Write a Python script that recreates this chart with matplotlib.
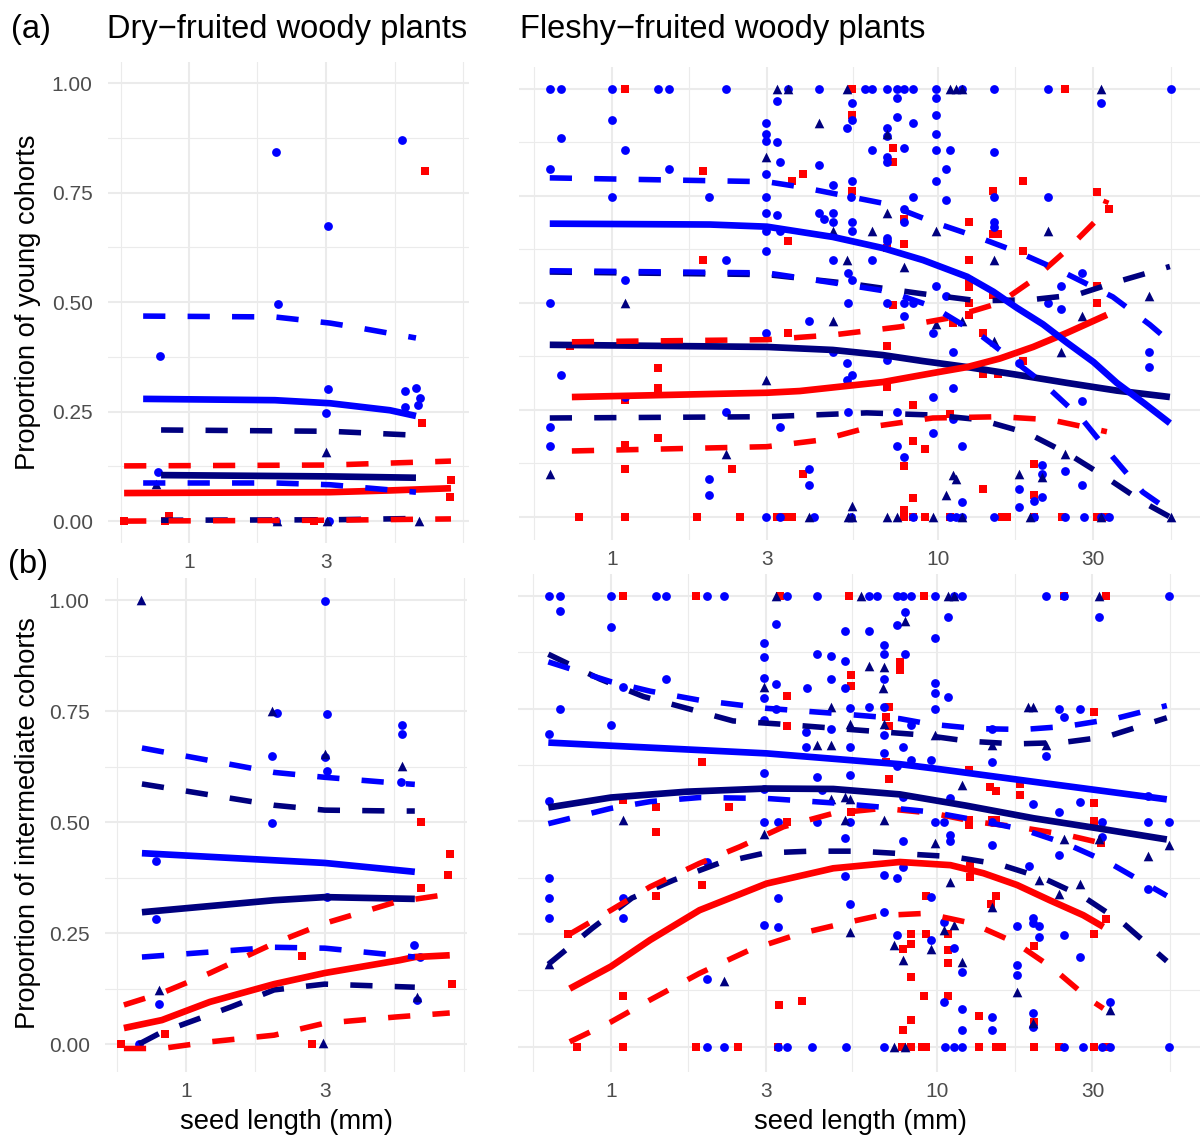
import matplotlib
matplotlib.use("Agg")
import matplotlib.pyplot as plt
from matplotlib.ticker import FixedLocator, NullFormatter

plt.rcParams['font.family'] = ['Liberation Sans', 'DejaVu Sans']

W, H = 1201, 1140
BLUE, NAVY, RED = '#0000FF', '#00007F', '#FF0000'

# ---------------- data: (a) dry-fruited, young cohorts ----------------
tl_blue = [(2.01, 0.842), (5.51, 0.870), (3.05, 0.674), (2.04, 0.495), (0.79, 0.377), (3.05, 0.301),
           (3.0, 0.246), (5.65, 0.297), (6.17, 0.304), (6.38, 0.281), (5.65, 0.260), (6.26, 0.265),
           (0.78, 0.112), (2.01, 0.0), (3.07, 0.0)]
tl_navy = [(0.77, 0.084), (3.0, 0.157), (6.3, 0.0), (2.03, 0.0), (3.03, 0.0)]
tl_red = [(6.63, 0.799), (6.5, 0.224), (8.17, 0.094), (8.1, 0.055), (0.594, 0.0), (0.825, 0.0),
          (0.85, 0.012), (2.72, 0.0)]

tl_blue_fit = ([0.692, 1.99, 3.10, 5.01, 6.17], [0.279, 0.276, 0.269, 0.253, 0.240])
tl_blue_hi = ([0.692, 1.99, 3.10, 4.0, 6.17], [0.468, 0.466, 0.452, 0.44, 0.418])
tl_blue_lo = ([0.692, 1.99, 3.10, 6.17], [0.087, 0.087, 0.083, 0.066])
tl_navy_fit = ([0.799, 3.10, 6.17], [0.105, 0.102, 0.099])
tl_navy_hi = ([0.799, 3.10, 6.17], [0.208, 0.205, 0.196])
tl_navy_lo = ([0.799, 3.10, 6.17], [0.002, 0.003, 0.006])
tl_red_fit = ([0.594, 3.10, 5.01, 8.17], [0.064, 0.066, 0.070, 0.075])
tl_red_hi = ([0.594, 3.10, 8.17], [0.126, 0.128, 0.137])
tl_red_lo = ([0.594, 3.10, 8.17], [0.0, 0.002, 0.005])

# ---------------- data: (b) dry-fruited, intermediate cohorts ----------------
bl_blue = [(3.0, 0.998), (2.05, 0.746), (3.05, 0.743), (5.55, 0.718), (5.55, 0.698), (1.98, 0.649),
           (3.0, 0.647), (3.05, 0.615), (5.47, 0.590), (1.98, 0.498), (0.79, 0.412), (0.79, 0.281),
           (3.05, 0.331), (6.1, 0.223), (6.4, 0.196), (0.81, 0.090), (6.25, 0.099), (0.69, 0.0)]
bl_navy = [(0.70, 1.0), (1.97, 0.75), (3.0, 0.653), (5.55, 0.626), (0.81, 0.122), (6.25, 0.106), (2.95, 0.002)]
bl_red = [(6.45, 0.50), (8.1, 0.428), (7.96, 0.381), (6.45, 0.351), (2.5, 0.198), (8.2, 0.135),
          (0.85, 0.022), (0.60, 0.0), (2.72, 0.0)]

bl_blue_fit = ([0.706, 2.01, 3.0, 6.12], [0.430, 0.414, 0.408, 0.388])
bl_blue_hi = ([0.706, 2.01, 3.0, 5.27, 6.12], [0.667, 0.612, 0.601, 0.588, 0.585])
bl_blue_lo = ([0.706, 2.01, 3.0, 6.12], [0.196, 0.218, 0.216, 0.196])
bl_navy_fit = ([0.706, 2.01, 3.0, 6.12], [0.297, 0.324, 0.331, 0.327])
bl_navy_hi = ([0.706, 2.01, 3.0, 5.27, 6.12], [0.586, 0.538, 0.527, 0.525, 0.525])
bl_navy_lo = ([0.69, 0.827, 1.42, 2.01, 3.0, 6.12], [0.0, 0.027, 0.083, 0.122, 0.135, 0.128])
bl_red_fit = ([0.612, 0.827, 1.21, 2.01, 3.0, 5.44, 6.12, 8.07],
              [0.036, 0.054, 0.095, 0.135, 0.160, 0.189, 0.196, 0.200])
bl_red_hi = ([0.612, 0.827, 1.21, 2.01, 3.0, 5.27, 8.07], [0.088, 0.115, 0.160, 0.227, 0.272, 0.320, 0.338])
bl_red_lo = ([0.612, 0.827, 1.21, 2.01, 3.0, 5.27, 8.07], [-0.01, -0.01, 0.005, 0.020, 0.047, 0.061, 0.07])

# ---------------- data: (a) fleshy-fruited, young cohorts ----------------
tr_blue = [(0.645, 1), (0.698, 1), (1.0, 1), (1.39, 1), (1.50, 1), (2.24, 1), (3.47, 1), (3.22, 0.972),
           (1.0, 0.927), (0.698, 0.886), (2.98, 0.92), (2.98, 0.894), (2.98, 0.877), (3.22, 0.875),
           (1.10, 0.857), (3.28, 0.829), (0.645, 0.813), (1.50, 0.813), (2.98, 0.80), (1.0, 0.748),
           (1.99, 0.748), (2.98, 0.748), (2.98, 0.71), (3.22, 0.705), (2.98, 0.667), (3.28, 0.667),
           (2.98, 0.622), (2.24, 0.60), (1.10, 0.553), (0.645, 0.50), (2.98, 0.43), (0.698, 0.332),
           (1.10, 0.28), (2.24, 0.245), (0.645, 0.21), (3.28, 0.21), (0.645, 0.165), (1.99, 0.088),
           (1.99, 0.05), (2.98, 0), (3.28, 0),
           (4.33, 1), (5.97, 1), (6.26, 1), (6.97, 1), (7.5, 1), (7.88, 1), (8.39, 1), (9.9, 1), (11.9, 1),
           (14.85, 1), (21.8, 1), (51.9, 1),
           (7.5, 0.978), (9.9, 0.978), (5.45, 0.966), (31.6, 0.966), (9.9, 0.94), (7.5, 0.935), (8.39, 0.92),
           (5.45, 0.927), (5.26, 0.908), (6.97, 0.908), (9.9, 0.894), (6.97, 0.889), (4.33, 0.823),
           (6.26, 0.857), (7.88, 0.862), (9.9, 0.857), (10.9, 0.857), (14.85, 0.852), (6.97, 0.841),
           (6.97, 0.829), (10.6, 0.813), (9.9, 0.785), (4.76, 0.776), (5.45, 0.785), (5.4, 0.748),
           (8.39, 0.748), (10.6, 0.741), (14.85, 0.748), (21.8, 0.748), (4.33, 0.71), (4.47, 0.697),
           (4.76, 0.71), (4.76, 0.69), (5.45, 0.69), (7.88, 0.72), (7.88, 0.69), (14.85, 0.69),
           (14.85, 0.678), (5.45, 0.667), (6.97, 0.652), (6.97, 0.644), (6.26, 0.60), (4.76, 0.60),
           (5.31, 0.57), (5.45, 0.553), (9.9, 0.54), (10.6, 0.517), (23.8, 0.54), (27.6, 0.57),
           (5.31, 0.50), (6.97, 0.5), (7.88, 0.5), (8.39, 0.5), (21.8, 0.5), (23.8, 0.485), (7.88, 0.47),
           (4.03, 0.458), (9.69, 0.43), (4.76, 0.385), (6.97, 0.367), (11.1, 0.385), (5.26, 0.36),
           (5.45, 0.332), (5.26, 0.32), (11.1, 0.302), (44.5, 0.385), (44.5, 0.35), (17.8, 0.36),
           (9.69, 0.28), (27.6, 0.27), (5.31, 0.245), (7.5, 0.245), (11.1, 0.228), (9.69, 0.197),
           (7.5, 0.165), (11.9, 0.165), (7.88, 0.139), (4.03, 0.113), (4.03, 0.075), (20.8, 0.122),
           (20.8, 0.10), (24.5, 0.108), (27.6, 0.075), (17.8, 0.065), (11.9, 0.034), (17.8, 0.023),
           (19.7, 0.037), (20.8, 0.046),
           (4.18, 0), (5.4, 0), (8.39, 0), (10.9, 0), (11.4, 0), (11.9, 0), (14.85, 0), (19.7, 0), (24.5, 0),
           (28.1, 0), (31.6, 0), (33.6, 0)]
tr_navy = [(3.22, 1), (3.47, 1), (2.98, 0.841), (1.10, 0.50), (2.98, 0.32), (0.645, 0.10), (2.24, 0.146),
           (5.26, 1), (10.9, 1), (11.4, 1), (11.9, 1), (31.6, 1), (4.33, 0.92), (6.97, 0.894), (6.97, 0.71),
           (4.76, 0.667), (6.26, 0.667), (9.9, 0.667), (21.8, 0.667), (5.26, 0.60), (7.88, 0.583),
           (14.85, 0.60), (4.76, 0.458), (9.9, 0.45), (11.9, 0.458), (14.85, 0.41), (23.8, 0.385),
           (27.6, 0.47), (44.5, 0.517), (24.5, 0.146), (17.8, 0.10), (11.1, 0.097), (11.4, 0.088),
           (20.8, 0.093), (10.6, 0.05), (5.45, 0.025), (4.03, 0), (5.31, 0), (5.45, 0), (6.97, 0), (7.5, 0),
           (9.69, 0), (11.9, 0), (19.2, 0), (31.6, 0), (51.9, 0)]
tr_red = [(1.10, 1), (1.91, 0.808), (3.56, 0.785), (3.47, 0.644), (1.91, 0.60), (3.47, 0.43), (0.743, 0.40),
          (1.39, 0.347), (1.39, 0.30), (1.10, 0.273), (1.39, 0.185), (1.10, 0.167), (1.10, 0.111),
          (2.33, 0.111), (0.794, 0), (1.10, 0), (1.83, 0), (2.48, 0), (3.22, 0), (3.38, 0), (3.56, 0),
          (5.45, 1), (24.5, 1), (5.45, 0.94), (7.26, 0.862), (7.26, 0.829), (3.85, 0.80), (18.2, 0.785),
          (14.8, 0.762), (5.45, 0.762), (30.7, 0.758), (33.6, 0.72), (12.5, 0.69), (7.88, 0.697),
          (14.8, 0.661), (15.3, 0.661), (6.97, 0.628), (7.88, 0.637), (18.2, 0.622), (12.5, 0.60),
          (12.5, 0.553), (12.5, 0.537), (14.8, 0.519), (7.26, 0.495), (12.5, 0.50), (12.5, 0.472),
          (30.7, 0.54), (30.7, 0.50), (13.8, 0.43), (11.1, 0.452), (6.97, 0.40), (18.2, 0.365),
          (13.8, 0.334), (15.3, 0.334), (8.39, 0.262), (6.97, 0.303), (10.9, 0.241), (8.39, 0.178),
          (9.1, 0.159), (7.88, 0.12), (3.85, 0.10), (13.8, 0.065), (19.7, 0.124), (19.7, 0.051),
          (8.39, 0.044), (7.88, 0.016), (7.88, 0), (8.39, 0), (9.1, 0), (10.9, 0), (15.7, 0), (16.3, 0),
          (19.7, 0), (24.0, 0), (30.7, 0), (32.9, 0)]

tr_blue_fit = ([0.645, 2.0, 2.99, 4.76, 6.78, 9.0, 12.3, 14.8, 17.5, 21.0, 24.9, 30.0, 35.4, 43.0, 51.5],
               [0.685, 0.683, 0.678, 0.654, 0.628, 0.600, 0.561, 0.526, 0.488, 0.450, 0.407, 0.362, 0.313,
                0.265, 0.219])
tr_blue_hi = ([0.645, 2.99, 3.77, 6.97, 9.65, 13.2, 17.8, 24.2, 34.4, 44.7, 51.5],
              [0.792, 0.783, 0.771, 0.731, 0.689, 0.654, 0.617, 0.572, 0.514, 0.449, 0.409])
tr_blue_lo = ([0.645, 2.99, 4.76, 7.12, 9.65, 13.7, 21.0, 27.8, 34.4, 42.5, 48.0],
              [0.575, 0.570, 0.547, 0.526, 0.491, 0.421, 0.313, 0.227, 0.140, 0.058, 0.03])
tr_navy_fit = ([0.645, 2.99, 4.76, 6.78, 9.0, 12.3, 17.5, 24.9, 35.4, 51.5],
               [0.402, 0.397, 0.390, 0.378, 0.364, 0.350, 0.332, 0.313, 0.295, 0.280])
tr_navy_hi = ([0.645, 2.99, 5.37, 8.81, 13.2, 19.1, 26.7, 35.4, 51.5],
              [0.572, 0.566, 0.545, 0.522, 0.505, 0.507, 0.519, 0.549, 0.585])
tr_navy_lo = ([0.645, 2.99, 6.05, 9.65, 13.5, 18.8, 25.4, 33.0, 42.5, 51.5],
              [0.231, 0.234, 0.243, 0.238, 0.227, 0.196, 0.145, 0.091, 0.035, 0.0])
tr_red_fit = ([0.754, 2.99, 3.77, 6.78, 9.65, 12.3, 15.5, 19.6, 24.9, 33.0],
              [0.280, 0.290, 0.294, 0.315, 0.336, 0.350, 0.370, 0.397, 0.430, 0.472])
tr_red_hi = ([0.754, 2.99, 4.76, 7.65, 10.9, 15.5, 19.6, 24.9, 31.4, 33.0],
             [0.409, 0.414, 0.425, 0.444, 0.465, 0.500, 0.554, 0.624, 0.701, 0.741])
tr_red_lo = ([0.754, 2.99, 4.43, 6.19, 9.65, 15.5, 22.1, 33.0],
             [0.154, 0.164, 0.180, 0.210, 0.231, 0.234, 0.227, 0.199])

# ---------------- data: (b) fleshy-fruited, intermediate cohorts ----------------
br_blue = [(0.645, 1), (0.698, 1), (1.0, 1), (1.38, 1), (1.48, 1), (1.97, 1), (2.22, 1), (3.47, 1),
           (0.698, 0.967), (1.0, 0.932), (3.2, 0.939), (2.95, 0.897), (2.95, 0.865), (1.48, 0.817),
           (2.95, 0.819), (3.2, 0.806), (1.09, 0.799), (2.95, 0.773), (0.698, 0.749), (3.2, 0.749),
           (2.95, 0.725), (0.645, 0.695), (1.0, 0.713), (2.95, 0.608), (2.95, 0.571), (0.645, 0.545),
           (2.95, 0.499), (3.25, 0.499), (1.97, 0.41), (0.645, 0.374), (0.645, 0.331), (0.645, 0.285),
           (1.09, 0.331), (1.09, 0.285), (3.25, 0.331), (2.95, 0.27), (3.25, 0.265), (1.97, 0.15),
           (1.97, 0), (2.22, 0), (3.25, 0), (3.47, 0),
           (4.28, 1), (6.2, 1), (6.57, 1), (7.52, 1), (7.88, 1), (8.35, 1), (9.86, 1), (11.3, 1), (11.9, 1),
           (21.6, 1), (24.6, 1), (51.5, 1),
           (7.98, 0.965), (10.8, 0.954), (31.5, 0.954), (7.52, 0.936), (5.22, 0.922), (6.2, 0.923),
           (9.86, 0.908), (6.9, 0.891), (4.28, 0.871), (4.73, 0.867), (6.9, 0.871), (7.98, 0.871),
           (5.22, 0.857), (4.73, 0.816), (5.22, 0.797), (6.9, 0.816), (4.0, 0.795), (9.86, 0.808),
           (9.86, 0.786), (10.8, 0.777), (5.41, 0.751), (6.2, 0.754), (9.86, 0.749), (6.9, 0.754),
           (23.7, 0.749), (27.5, 0.749), (24.6, 0.732), (3.98, 0.699), (4.73, 0.706), (6.9, 0.692),
           (8.35, 0.714), (14.8, 0.706), (3.98, 0.666), (5.41, 0.666), (7.88, 0.666), (21.6, 0.646),
           (6.9, 0.652), (8.35, 0.636), (9.6, 0.636), (14.8, 0.631), (7.52, 0.624), (4.28, 0.599),
           (5.41, 0.603), (4.45, 0.57), (7.88, 0.555), (11.0, 0.551), (19.7, 0.538), (23.7, 0.521),
           (27.5, 0.542), (44.3, 0.557), (4.28, 0.499), (5.41, 0.499), (9.86, 0.499), (10.5, 0.499),
           (14.8, 0.499), (32.0, 0.499), (44.3, 0.499), (51.5, 0.499), (5.22, 0.464), (7.88, 0.456),
           (11.0, 0.47), (11.0, 0.456), (14.8, 0.447), (23.7, 0.425), (32.0, 0.466), (5.22, 0.379),
           (6.9, 0.381), (7.52, 0.375), (7.88, 0.399), (19.2, 0.401), (44.3, 0.351), (5.41, 0.317),
           (9.6, 0.333), (6.9, 0.30), (10.5, 0.277), (17.6, 0.268), (19.7, 0.285), (19.7, 0.274),
           (20.6, 0.268), (20.6, 0.244), (24.6, 0.249), (7.52, 0.249), (9.6, 0.237), (11.3, 0.22),
           (27.5, 0.2), (11.9, 0.166), (17.6, 0.181), (17.6, 0.159), (10.5, 0.10), (11.9, 0.083),
           (14.8, 0.067), (19.7, 0.076), (34.0, 0.10), (11.9, 0.037), (14.8, 0.037), (19.7, 0.044),
           (4.13, 0), (5.28, 0), (6.9, 0), (10.6, 0), (11.3, 0), (11.9, 0), (24.6, 0), (28.1, 0), (32.0, 0),
           (34.0, 0), (51.5, 0)]
br_navy = [(3.2, 1), (2.95, 0.799), (1.09, 0.503), (2.95, 0.472), (2.22, 0.146), (0.645, 0.183),
           (5.87, 1), (10.8, 1), (11.3, 1), (31.4, 1), (7.98, 0.945), (6.2, 0.845), (6.9, 0.842),
           (6.85, 0.795), (4.73, 0.754), (5.41, 0.717), (6.9, 0.717), (9.86, 0.692), (4.28, 0.669),
           (4.73, 0.669), (14.8, 0.669), (21.6, 0.669), (19.0, 0.754), (19.7, 0.754), (11.9, 0.581),
           (4.73, 0.549), (5.22, 0.555), (5.41, 0.549), (5.22, 0.503), (6.9, 0.504), (9.86, 0.453),
           (24.6, 0.46), (31.5, 0.46), (51.5, 0.447), (44.3, 0.423), (11.0, 0.366), (20.6, 0.371),
           (23.7, 0.338), (27.5, 0.362), (14.8, 0.311), (5.41, 0.255), (7.4, 0.226), (7.88, 0.192),
           (9.6, 0.218), (10.5, 0.259), (11.3, 0.271), (11.9, 0.189), (17.6, 0.121), (19.7, 0.052),
           (34.0, 0.081), (7.4, 0), (7.98, 0)]
br_red = [(1.09, 1), (1.83, 1), (3.3, 1), (1.9, 0.632), (3.47, 0.779), (3.47, 0.712), (1.09, 0.547),
          (1.38, 0.533), (2.3, 0.531), (1.38, 0.477), (3.47, 0.499), (1.9, 0.359), (1.38, 0.335),
          (0.74, 0.25), (1.09, 0.112), (3.28, 0.092), (3.85, 0.101), (0.79, 0), (1.09, 0), (1.83, 0),
          (2.45, 0), (3.25, 0),
          (5.38, 1), (9.1, 1), (24.6, 1), (33.1, 1), (5.45, 0.825), (5.45, 0.80), (7.7, 0.854), (7.7, 0.836),
          (7.15, 0.754), (7.0, 0.732), (7.15, 0.712), (30.3, 0.743), (7.0, 0.632), (7.15, 0.595),
          (12.5, 0.615), (14.5, 0.577), (15.2, 0.567), (18.0, 0.583), (18.0, 0.558), (30.3, 0.541),
          (30.3, 0.501), (5.45, 0.521), (12.5, 0.503), (12.5, 0.492), (14.8, 0.503), (15.2, 0.503),
          (31.8, 0.453), (12.6, 0.40), (12.6, 0.377), (9.25, 0.334), (15.2, 0.334), (14.6, 0.317),
          (33.1, 0.283), (30.3, 0.251), (8.35, 0.251), (9.25, 0.251), (10.8, 0.251), (8.3, 0.228),
          (7.88, 0.216), (10.8, 0.214), (10.8, 0.186), (19.8, 0.223), (8.3, 0.155), (9.1, 0.112),
          (10.8, 0.112), (3.86, 0.101), (13.5, 0.069), (19.8, 0.055), (8.3, 0.059), (7.88, 0.038),
          (7.8, 0), (8.35, 0), (9.0, 0), (9.25, 0), (13.5, 0), (15.2, 0), (15.8, 0), (19.8, 0), (23.7, 0),
          (30.3, 0), (33.0, 0)]

br_blue_fit = ([0.643, 1.0, 3.0, 7.7, 9.7, 19.8, 50.7], [0.675, 0.668, 0.651, 0.627, 0.618, 0.588, 0.549])
br_blue_hi = ([0.643, 1.0, 1.32, 1.87, 3.0, 4.81, 7.7, 9.5, 13.2, 18.4, 25.0, 35.6, 50.7],
              [0.854, 0.81, 0.789, 0.769, 0.751, 0.74, 0.728, 0.716, 0.706, 0.704, 0.711, 0.729, 0.757])
br_blue_lo = ([0.643, 1.0, 1.32, 1.87, 3.0, 4.81, 7.7, 9.6, 13.4, 18.4, 25.0, 34.0, 50.7],
              [0.495, 0.529, 0.544, 0.553, 0.551, 0.541, 0.528, 0.521, 0.502, 0.482, 0.45, 0.407, 0.335])
br_navy_fit = ([0.643, 1.0, 1.71, 3.0, 4.81, 7.7, 12.3, 19.8, 31.6, 50.7],
               [0.531, 0.553, 0.566, 0.573, 0.572, 0.56, 0.535, 0.507, 0.484, 0.46])
br_navy_hi = ([0.643, 0.925, 1.26, 1.75, 2.37, 3.3, 6.4, 8.98, 12.5, 17.4, 24.2, 33.2, 50.7],
              [0.871, 0.816, 0.777, 0.749, 0.723, 0.716, 0.70, 0.692, 0.678, 0.672, 0.675, 0.688, 0.73])
br_navy_lo = ([0.643, 0.877, 1.16, 1.56, 2.14, 2.97, 4.1, 5.74, 7.98, 11.1, 15.5, 21.2, 28.1, 37.3, 50.7],
              [0.183, 0.263, 0.33, 0.37, 0.407, 0.43, 0.434, 0.434, 0.428, 0.422, 0.405, 0.374, 0.333,
               0.274, 0.19])
br_red_fit = ([0.748, 1.0, 1.32, 1.87, 3.0, 4.81, 7.7, 11.0, 13.9, 17.6, 22.2, 28.1, 32.4],
              [0.129, 0.178, 0.237, 0.303, 0.362, 0.396, 0.41, 0.403, 0.385, 0.359, 0.325, 0.292, 0.266])
br_red_hi = ([0.748, 1.0, 1.32, 1.87, 2.49, 3.38, 4.81, 6.84, 9.75, 13.2, 17.6, 25.0, 32.4],
             [0.25, 0.303, 0.355, 0.407, 0.444, 0.488, 0.518, 0.529, 0.518, 0.499, 0.488, 0.47, 0.451])
br_red_lo = ([0.748, 1.0, 1.32, 1.87, 2.67, 3.8, 5.4, 6.63, 9.24, 12.8, 17.4, 22.7, 29.4, 32.4],
             [0.011, 0.055, 0.104, 0.163, 0.215, 0.251, 0.277, 0.291, 0.296, 0.274, 0.231, 0.174, 0.105,
              0.085])

# gridline positions (ggplot-style minor breaks on log10 axis)
y_major = [0, 0.25, 0.5, 0.75, 1.0]
y_minor = [0.125, 0.375, 0.625, 0.875]
left_major = [1, 3]
left_minor = [0.578, 1.73, 5.2, 9.0]
right_major = [1, 3, 10, 30]
right_minor = [0.578, 1.73, 5.48, 17.3, 52.0]


def box(l, t, r, b):
    return [l / W, 1 - b / H, (r - l) / W, (b - t) / H]


fig = plt.figure(figsize=(W / 100, H / 100), dpi=100)

panels = [
    # box, xlim, ylim, majors, minors, show y labels, points, lines
    (box(108, 62, 469, 543), (0.522, 9.44), (-0.050, 1.048), left_major, left_minor, True,
     (tl_blue, tl_navy, tl_red),
     (tl_navy_fit, tl_navy_hi, tl_navy_lo, tl_red_fit, tl_red_hi, tl_red_lo, tl_blue_fit, tl_blue_hi, tl_blue_lo)),
    (box(519, 67, 1200, 540), (0.519, 63.7), (-0.054, 1.051), right_major, right_minor, False,
     (tr_blue, tr_navy, tr_red),
     (tr_navy_fit, tr_navy_hi, tr_navy_lo, tr_red_fit, tr_red_hi, tr_red_lo, tr_blue_fit, tr_blue_hi, tr_blue_lo)),
    (box(105, 578, 467, 1072), (0.527, 9.25), (-0.063, 1.050), left_major, left_minor, True,
     (bl_blue, bl_navy, bl_red),
     (bl_navy_fit, bl_navy_hi, bl_navy_lo, bl_red_fit, bl_red_hi, bl_red_lo, bl_blue_fit, bl_blue_hi, bl_blue_lo)),
    (box(518, 574, 1200, 1072), (0.519, 64.1), (-0.056, 1.049), right_major, right_minor, False,
     (br_blue, br_navy, br_red),
     (br_navy_fit, br_navy_hi, br_navy_lo, br_red_fit, br_red_hi, br_red_lo, br_blue_fit, br_blue_hi, br_blue_lo)),
]

line_cols = [NAVY] * 3 + [RED] * 3 + [BLUE] * 3

for rect, xl, yl, xmaj, xmin, ylab, pts, lines in panels:
    ax = fig.add_axes(rect)
    ax.set_xscale('log')
    ax.set_xlim(*xl)
    ax.set_ylim(*yl)
    for s in ax.spines.values():
        s.set_visible(False)
    ax.xaxis.set_major_locator(FixedLocator(xmaj))
    ax.xaxis.set_minor_locator(FixedLocator(xmin))
    ax.xaxis.set_major_formatter(plt.FixedFormatter([str(v) for v in xmaj]))
    ax.xaxis.set_minor_formatter(NullFormatter())
    ax.set_yticks(y_major)
    ax.set_yticks(y_minor, minor=True)
    if ylab:
        ax.set_yticklabels(['0.00', '0.25', '0.50', '0.75', '1.00'])
    else:
        ax.set_yticklabels([])
    ax.tick_params(which='both', length=0, labelsize=15, labelcolor='#4D4D4D')
    ax.tick_params(axis='x', pad=7.5)
    ax.tick_params(axis='y', pad=11)
    ax.grid(which='major', color='#EBEBEB', lw=1.5)
    ax.grid(which='minor', color='#EBEBEB', lw=0.8)
    ax.set_axisbelow(True)

    blue, navy, red = pts
    bx, by = zip(*blue)
    nx, ny = zip(*navy)
    rx, ry = zip(*red)
    ax.scatter(rx, ry, marker='s', s=30, color=RED, linewidths=0, zorder=3)
    ax.scatter(bx, by, marker='o', s=40, color=BLUE, linewidths=0, zorder=3)
    ax.scatter(nx, ny, marker='^', s=48, color=NAVY, linewidths=0, zorder=3)

    for i, ((lx, ly), c) in enumerate(zip(lines, line_cols)):
        if i % 3 == 0:
            ax.plot(lx, ly, color=c, lw=4.8, solid_capstyle='butt', solid_joinstyle='round', zorder=4)
        else:
            ax.plot(lx, ly, color=c, lw=4.0, linestyle=(0, (4.0, 4.0)), dash_capstyle='butt',
                    dash_joinstyle='round', zorder=4)


def ftext(x, y, s, **kw):
    fig.text(x / W, 1 - y / H, s, **kw)


ftext(11, 38, '(a)', fontsize=23.5, va='baseline', ha='left')
ftext(107, 38, 'Dry\u2212fruited woody plants', fontsize=23.5, va='baseline', ha='left')
ftext(520, 38, 'Fleshy\u2212fruited woody plants', fontsize=23.5, va='baseline', ha='left')
ftext(8, 573, '(b)', fontsize=23.5, va='baseline', ha='left')
ftext(28, 302, 'Proportion of young cohorts', fontsize=19.7, rotation=90, ha='center', va='center')
ftext(28, 823, 'Proportion of intermediate cohorts', fontsize=19.7, rotation=90, ha='center', va='center')
ftext(286, 1122, 'seed length (mm)', fontsize=19.7, ha='center', va='center')
ftext(860, 1122, 'seed length (mm)', fontsize=19.7, ha='center', va='center')

fig.savefig('out.png', dpi=100)
